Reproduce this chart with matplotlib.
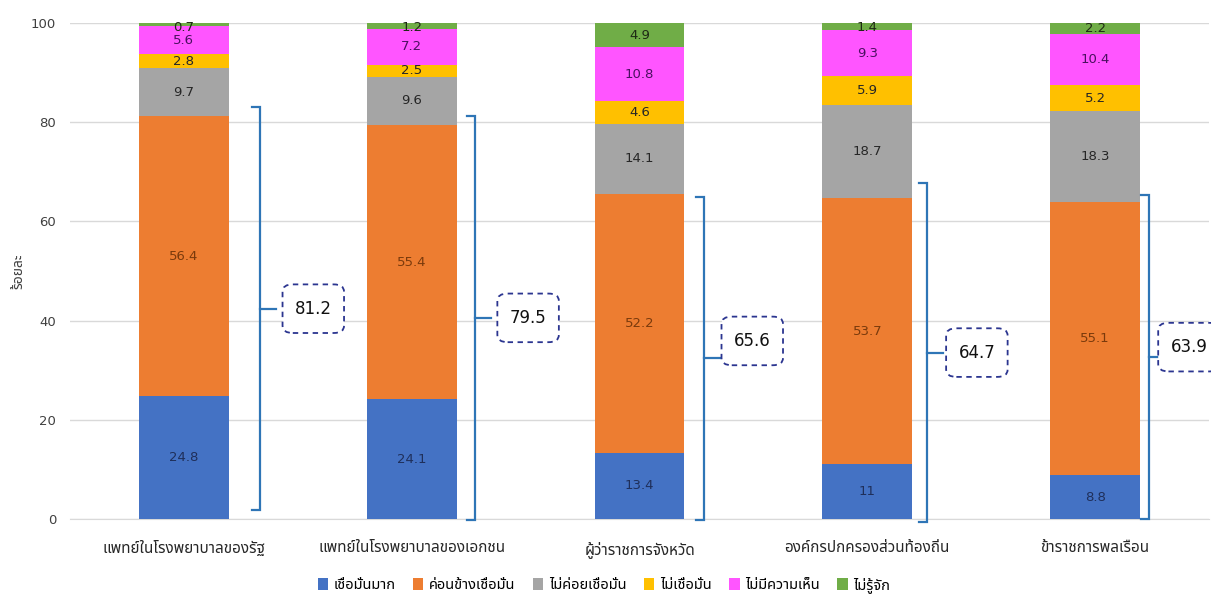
import matplotlib
matplotlib.use("Agg")
import matplotlib.pyplot as plt
from matplotlib import font_manager
from matplotlib.patches import FancyBboxPatch, Patch
import numpy as np

# ---------------- data ----------------
categories = ["แพทย์ในโรงพยาบาลของรัฐ", "แพทย์ในโรงพยาบาลของเอกชน", "ผู้ว่าราชการจังหวัด",
              "องค์กรปกครองส่วนท้องถิ่น", "ข้าราชการพลเรือน"]
series_names = ["เชื่อมั่นมาก", "ค่อนข้างเชื่อมั่น", "ไม่ค่อยเชื่อมั่น", "ไม่เชื่อมั่น", "ไม่มีความเห็น", "ไม่รู้จัก"]
very_confident = [24.8, 24.1, 13.4, 11.0, 8.8]
fairly_confident = [56.4, 55.4, 52.2, 53.7, 55.1]
not_very_confident = [9.7, 9.6, 14.1, 18.7, 18.3]
not_confident = [2.8, 2.5, 4.6, 5.9, 5.2]
no_opinion = [5.6, 7.2, 10.8, 9.3, 10.4]
unknown = [0.7, 1.2, 4.9, 1.4, 2.2]
value_labels = [["24.8", "24.1", "13.4", "11", "8.8"],
                ["56.4", "55.4", "52.2", "53.7", "55.1"],
                ["9.7", "9.6", "14.1", "18.7", "18.3"],
                ["2.8", "2.5", "4.6", "5.9", "5.2"],
                ["5.6", "7.2", "10.8", "9.3", "10.4"],
                ["0.7", "1.2", "4.9", "1.4", "2.2"]]
totals = [81.2, 79.5, 65.6, 64.7, 63.9]
yticks = [0, 20, 40, 60, 80, 100]

# ---------------- layout (hand-drawn bracket placement) ----------------
bracket_dx = [0.333, 0.276, 0.285, 0.263, 0.237]
bracket_top_off = [1.8, 1.8, -0.6, 3.0, 1.4]
bracket_bottom = [1.8, -0.2, -0.2, -0.6, 0.0]
box_gap = [0.10, 0.10, 0.075, 0.083, 0.04]
box_dy = [0.0, 0.0, 3.5, 0.0, 2.0]

# ---------------- fonts ----------------
pref = ["Noto Sans Thai", "Noto Sans Thai UI", "Tahoma", "Leelawadee UI", "Leelawadee",
        "Loma", "Garuda", "Waree", "Sarabun", "TH Sarabun New", "Norasi", "Kinnari",
        "Umpush", "Laksaman", "Sawasdee", "Tlwg Typist", "FreeSans", "Arial Unicode MS"]
thai_cands = []
try:
    from matplotlib.ft2font import FT2Font
    seen = set()
    for f in font_manager.fontManager.ttflist:
        if f.name in seen:
            continue
        try:
            cm = FT2Font(f.fname).get_charmap()
        except Exception:
            continue
        if 0x0E01 in cm and 0x0E48 in cm:
            thai_cands.append(f.name)
            seen.add(f.name)
except Exception:
    pass
thai_font = None
for p in pref:
    if p in thai_cands:
        thai_font = p
        break
if thai_font is None and thai_cands:
    thai_font = thai_cands[0]
families = ([thai_font] if thai_font else []) + ["DejaVu Sans"]
plt.rcParams['font.family'] = families
num_font = ["DejaVu Sans"]

colors = ["#4472C4", "#ED7D31", "#A5A5A5", "#FFC000", "#FF55FF", "#70AD47"]
label_colors = ["#1F2F5A", "#7A3A0C", "#262626", "#262626", "#4A1060", "#1E2A14"]

fig = plt.figure(figsize=(12.11, 5.96), dpi=100)
ax = fig.add_axes([70 / 1211, 77 / 596, 1139 / 1211, 496 / 596])

x = np.arange(len(categories))
width = 0.395
series = [very_confident, fairly_confident, not_very_confident, not_confident, no_opinion, unknown]
bottom = np.zeros(len(categories))
for i, vals in enumerate(series):
    vals = np.array(vals)
    ax.bar(x, vals, width, bottom=bottom, color=colors[i], label=series_names[i], zorder=3)
    for j in range(len(categories)):
        yc = bottom[j] + vals[j] / 2
        if i == 5:
            yc = min(yc, 99.0)
        ax.text(x[j], yc, value_labels[i][j], ha='center', va='center', fontsize=9.5,
                color=label_colors[i], family=num_font, zorder=4)
    bottom += vals

ax.set_xlim(-0.5, 4.5)
ax.set_ylim(0, 100)
ax.set_yticks(yticks)
ax.set_yticklabels([str(t) for t in yticks], family=num_font, fontsize=9.5, color="#404040")
ax.yaxis.grid(True, color="#D9D9D9", linewidth=1.0, zorder=0)
ax.set_axisbelow(True)
for s in ["top", "right", "left"]:
    ax.spines[s].set_visible(False)
ax.spines["bottom"].set_color("#D9D9D9")
ax.tick_params(axis='y', length=0, pad=10)
ax.tick_params(axis='x', length=0, pad=16)
ax.set_xticks(x)
ax.set_xticklabels(categories, fontsize=11, color="#262626")
ax.set_ylabel("ร้อยละ", fontsize=10, color="#404040", labelpad=3)

# brackets and boxes
bc = "#2E75B6"
for j in range(len(categories)):
    bx = x[j] + bracket_dx[j]
    top = totals[j] + bracket_top_off[j]
    bot = bracket_bottom[j]
    mid = (top + bot) / 2
    ax.plot([bx - 0.035, bx, bx, bx - 0.035], [top, top, bot, bot], color=bc, lw=1.6,
            zorder=5, clip_on=False, solid_joinstyle='miter')
    ax.plot([bx, bx + 0.07], [mid, mid], color=bc, lw=1.6, zorder=5, clip_on=False)
    bw, bh = 0.27, 9.8
    left = bx + box_gap[j]
    cy = mid + box_dy[j]
    box = FancyBboxPatch((left, cy - bh / 2), bw, bh,
                         boxstyle="round,pad=0,rounding_size=0.045",
                         mutation_aspect=bh / bw * 0.9,
                         facecolor="white", edgecolor="#2B3590", lw=1.3,
                         linestyle=(0, (3, 2.5)), zorder=6, clip_on=False)
    ax.add_patch(box)
    ax.text(left + bw / 2, cy, f"{totals[j]}", ha='center', va='center', fontsize=12,
            color="#111111", family=num_font, zorder=7, clip_on=False)

handles = [Patch(facecolor=colors[i], label=series_names[i]) for i in range(6)]
fig.legend(handles=handles, loc='center', bbox_to_anchor=(604 / 1211, 11 / 596), ncol=6,
           frameon=False, fontsize=10.5, handlelength=0.7, handleheight=0.9,
           handletextpad=0.4, columnspacing=1.2)

fig.savefig("out.png", dpi=100)
